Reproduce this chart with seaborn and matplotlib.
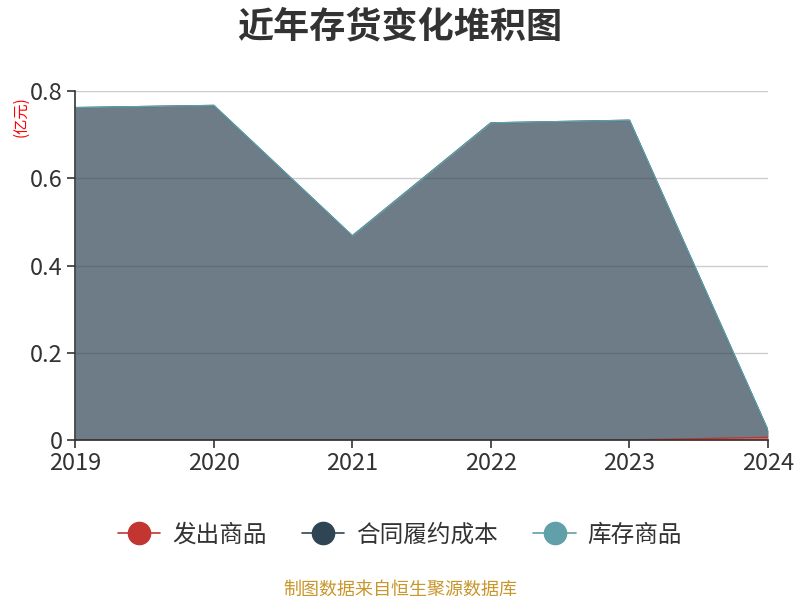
import matplotlib
matplotlib.use('Agg')
import matplotlib.pyplot as plt
from matplotlib.lines import Line2D
import seaborn as sns
import numpy as np
import pandas as pd

years = [2019, 2020, 2021, 2022, 2023, 2024]
fachu = [0.0, 0.0, 0.0, 0.0, 0.0, 0.006]          # 发出商品
hetong = [0.762, 0.767, 0.468, 0.727, 0.733, 0.016]  # 合同履约成本
kucun = [0.0, 0.0, 0.0, 0.0, 0.0, 0.0]            # 库存商品

names = ['发出商品', '合同履约成本', '库存商品']
colors = ['#c23531', '#2f4554', '#61a0a8']

sns.set_theme(style='white')
plt.rcParams['font.family'] = ['Noto Sans CJK SC', 'DejaVu Sans']

fig = plt.figure(figsize=(8, 6), dpi=100)
ax = fig.add_axes([0.094, 0.2667, 0.866, 0.5815])

# grid under the semi-transparent areas
ax.set_axisbelow(True)
ax.yaxis.grid(True, color='#cccccc', linewidth=1, zorder=0)

ax.stackplot(years, fachu, hetong, kucun, colors=colors, alpha=0.7,
             linewidth=0, zorder=2)

# edge lines for each stacked layer
cum = np.cumsum(np.array([fachu, hetong, kucun]), axis=0)
df = pd.DataFrame({'year': years * 3,
                   'value': cum.ravel(),
                   'series': np.repeat(names, len(years))})
sns.lineplot(data=df, x='year', y='value', hue='series', palette=colors,
             hue_order=names, linewidth=1, legend=False, ax=ax, zorder=3)

ax.set_xlim(2019, 2024)
ax.set_ylim(0, 0.8)
ax.set_xticks(years)
ax.set_yticks([0, 0.2, 0.4, 0.6, 0.8])
ax.set_yticklabels(['0', '0.2', '0.4', '0.6', '0.8'])
ax.set_xlabel('')
ax.set_ylabel('')
for s in ['top', 'right']:
    ax.spines[s].set_visible(False)
for s in ['left', 'bottom']:
    ax.spines[s].set_color('#333333')
    ax.spines[s].set_linewidth(1.2)
    ax.spines[s].set_zorder(4)
ax.tick_params(axis='both', labelsize=17, colors='#333333', length=6, width=1.2,
               direction='out', left=True, bottom=True, pad=3)

fig.text(0.015, 0.805, '(亿元)', color='red', fontsize=11, rotation=90,
         ha='left', va='center')
fig.text(0.5, 0.955, '近年存货变化堆积图', fontsize=26, fontweight='bold',
         color='#333333', ha='center', va='center')

handles = [Line2D([0], [0], color=c, linewidth=1.2, marker='o', markersize=16,
                  markerfacecolor=c, markeredgecolor=c) for c in colors]
fig.legend(handles, names, loc='center', bbox_to_anchor=(0.5, 0.108), ncol=3,
           frameon=False, fontsize=17, handlelength=1.8, columnspacing=1.5,
           handletextpad=0.5, labelcolor='#333333')

fig.text(0.5, 0.017, '制图数据来自恒生聚源数据库', fontsize=13, color='#c8962a',
         ha='center', va='center')

fig.savefig('out.png', dpi=100)
